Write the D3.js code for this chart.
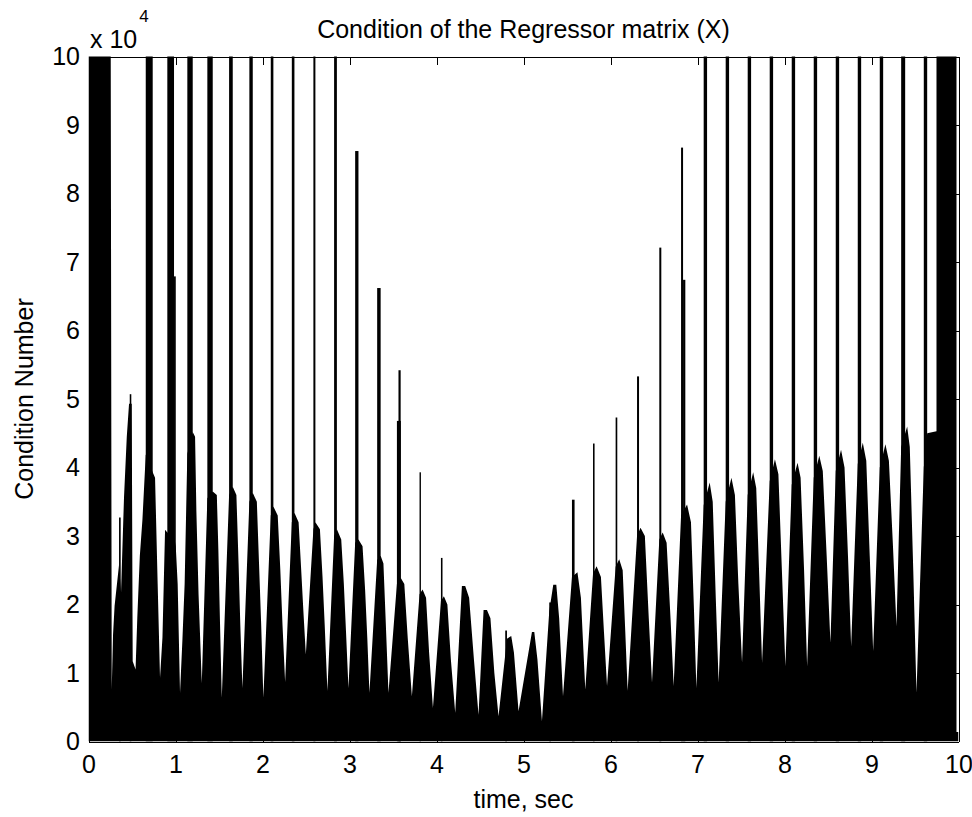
<!DOCTYPE html>
<html lang="en">
  <head>
    <meta charset="utf-8">
    <title>Condition of the Regressor matrix</title>
    <script src="https://d3js.org/d3.v7.js"></script>
    <style>
      body { margin: 0; background: #fff; }
      text { font-family: "Liberation Sans", Arial, sans-serif; }
    </style>
  </head>
  <body>
    <script>

  // width and height
  var w = 972;
  var h = 817;
  var plot = {left: 88.5, right: 958.5, top: 56.5, bottom: 741.5};

  // tick labels
  var xTicks = [0, 1, 2, 3, 4, 5, 6, 7, 8, 9, 10];
  var yTicks = [0, 1, 2, 3, 4, 5, 6, 7, 8, 9, 10];

  // upper edge of the condition number trace, [time sec, value x 10^4]
  var envLeft = [
    [0.000, 10.5], [0.255, 10.5], [0.267, 0.76], [0.282, 1.56], [0.300, 1.98],
    [0.351, 2.58], [0.374, 2.18], [0.408, 3.56], [0.440, 4.45], [0.466, 4.93],
    [0.497, 4.93], [0.508, 1.17], [0.541, 1.05], [0.561, 1.81], [0.590, 2.71],
    [0.620, 3.24], [0.658, 4.19], [0.738, 3.93], [0.765, 3.85], [0.795, 2.30],
    [0.822, 0.93], [0.850, 1.52], [0.880, 3.09], [0.906, 3.05], [0.983, 3.00],
    [1.003, 2.85], [1.025, 2.30], [1.052, 0.71], [1.080, 1.50], [1.105, 2.30],
    [1.136, 4.20], [1.198, 4.52], [1.225, 4.45], [1.240, 3.36], [1.265, 2.15],
    [1.302, 0.85], [1.366, 3.55], [1.428, 3.65], [1.475, 3.60], [1.493, 2.78],
    [1.512, 1.71], [1.532, 0.64], [1.616, 3.60], [1.658, 3.72], [1.700, 3.60],
    [1.725, 2.60], [1.745, 1.70], [1.769, 0.78], [1.849, 3.50], [1.888, 3.63],
    [1.935, 3.50], [1.960, 2.60], [1.985, 1.70], [2.010, 0.64], [2.095, 3.30],
    [2.125, 3.43], [2.175, 3.30], [2.205, 2.50], [2.230, 1.70], [2.260, 0.87],
    [2.337, 3.20], [2.367, 3.34], [2.415, 3.20], [2.445, 2.50], [2.470, 1.90],
    [2.498, 1.27], [2.585, 3.10], [2.608, 3.20], [2.660, 3.10], [2.690, 2.40],
    [2.715, 1.70], [2.746, 0.74], [2.823, 3.00], [2.855, 3.10], [2.905, 2.95],
    [2.935, 2.30], [2.960, 1.60], [2.988, 0.78]
  ];

  var envMid = [
    [3.065, 2.90], [3.103, 2.95], [3.150, 2.85], [3.180, 2.20], [3.205, 1.50],
    [3.229, 0.71], [3.318, 2.65], [3.358, 2.71], [3.390, 2.60], [3.415, 1.80],
    [3.448, 0.71], [3.545, 2.30], [3.588, 2.39], [3.630, 2.30], [3.670, 1.50],
    [3.717, 0.66], [3.805, 2.15], [3.840, 2.22], [3.880, 2.10], [3.915, 1.30],
    [3.959, 0.49], [4.051, 2.05], [4.085, 2.12], [4.125, 2.00], [4.165, 1.20],
    [4.215, 0.42], [4.292, 2.27], [4.330, 2.27], [4.375, 2.10], [4.430, 1.20],
    [4.483, 0.39], [4.541, 1.92], [4.580, 1.92], [4.620, 1.80], [4.665, 1.00],
    [4.713, 0.37], [4.810, 1.50], [4.859, 1.54], [4.890, 1.30], [4.943, 0.44],
    [5.097, 1.60], [5.124, 1.60], [5.160, 1.20], [5.212, 0.30], [5.296, 1.90],
    [5.342, 2.29], [5.377, 2.29], [5.410, 1.80], [5.454, 0.66], [5.557, 2.40],
    [5.620, 2.47], [5.660, 2.10], [5.710, 0.76], [5.799, 2.45], [5.840, 2.56],
    [5.890, 2.40], [5.925, 1.60], [5.960, 0.81], [6.059, 2.55], [6.100, 2.66],
    [6.140, 2.50], [6.170, 1.60], [6.197, 0.74], [6.305, 3.00], [6.345, 3.12],
    [6.395, 3.00], [6.440, 1.80], [6.477, 0.86], [6.561, 2.95], [6.600, 3.05],
    [6.645, 2.90], [6.690, 1.80], [6.726, 0.81], [6.811, 3.30], [6.880, 3.46],
    [6.925, 3.20], [6.960, 1.90], [6.987, 0.78]
  ];

  var envRight = [
    [7.071, 3.45], [7.140, 3.78], [7.175, 3.50], [7.210, 2.10], [7.243, 0.86],
    [7.324, 3.50], [7.390, 3.85], [7.430, 3.60], [7.470, 2.30], [7.512, 1.15],
    [7.577, 3.60], [7.640, 3.93], [7.675, 3.70], [7.710, 2.40], [7.742, 1.15],
    [7.830, 3.80], [7.890, 4.12], [7.930, 3.90], [7.970, 2.50], [8.010, 1.10],
    [8.083, 3.75], [8.150, 4.07], [8.185, 3.85], [8.225, 2.50], [8.260, 1.10],
    [8.336, 3.85], [8.400, 4.17], [8.440, 3.95], [8.485, 2.70], [8.528, 1.44],
    [8.589, 3.95], [8.650, 4.26], [8.690, 4.00], [8.730, 2.70], [8.766, 1.39],
    [8.842, 4.05], [8.900, 4.36], [8.940, 4.10], [8.980, 2.70], [9.019, 1.32],
    [9.095, 4.00], [9.160, 4.34], [9.200, 4.10], [9.245, 2.90], [9.287, 1.68],
    [9.341, 4.30], [9.410, 4.60], [9.440, 4.30], [9.480, 2.50], [9.517, 0.71],
    [9.601, 4.00], [9.640, 4.50], [9.747, 4.53], [9.747, 10.5], [9.977, 10.5],
    [9.977, 0.14], [10.00, 0.14]
  ];

  // spikes that run off the top of the axes, [start, end] in sec
  var spikesFull = [
    [0.658, 0.738], [0.906, 0.983], [1.136, 1.198], [1.366, 1.428], [1.616, 1.658],
    [1.849, 1.888], [2.095, 2.125], [2.337, 2.367], [2.585, 2.608], [2.823, 2.855],
    [7.071, 7.110], [7.324, 7.363], [7.577, 7.616], [7.830, 7.869], [8.083, 8.122],
    [8.336, 8.375], [8.589, 8.628], [8.842, 8.881], [9.095, 9.134], [9.341, 9.387],
    [9.601, 9.640]
  ];

  // shorter spikes, [start, end, value x 10^4]
  var spikesPartial = [
    [0.351, 0.370, 3.27], [0.474, 0.492, 5.07], [0.983, 1.003, 6.79],
    [3.065, 3.103, 8.62], [3.318, 3.358, 6.62], [3.545, 3.590, 4.68],
    [3.563, 3.588, 5.42], [3.805, 3.821, 3.93], [4.051, 4.069, 2.68],
    [4.790, 4.810, 1.62], [5.296, 5.316, 2.03], [5.557, 5.587, 3.53],
    [5.799, 5.817, 4.35], [6.059, 6.078, 4.73], [6.305, 6.328, 5.33],
    [6.561, 6.584, 7.21], [6.811, 6.834, 8.67], [6.834, 6.860, 6.74]
  ];

  var yMax = 10;

  // set up scales
  var xScale = d3.scaleLinear()
    .domain([0, 10])
    .range([plot.left, plot.right]);

  var yScale = d3.scaleLinear()
    .domain([0, yMax])
    .range([plot.bottom, plot.top]);

  // create SVG element
  var svg = d3.select("body")
    .append("svg")
    .attr("width", w)
    .attr("height", h);

  svg.append("defs")
    .append("clipPath")
    .attr("id", "plotClip")
    .append("rect")
    .attr("x", plot.left)
    .attr("y", plot.top)
    .attr("width", plot.right - plot.left)
    .attr("height", plot.bottom - plot.top);

  var dataLayer = svg.append("g")
    .attr("clip-path", "url(#plotClip)");

  // filled trace
  var area = d3.area()
    .x(d => xScale(d[0]))
    .y0(yScale(0))
    .y1(d => yScale(d[1]));

  dataLayer.append("path")
    .datum(envLeft.concat(envMid, envRight))
    .attr("d", area)
    .attr("fill", "#000");

  // spikes
  var spikes = spikesFull.map(d => [d[0], d[1], yMax + 0.5]).concat(spikesPartial);

  dataLayer.selectAll("rect.spike")
    .data(spikes)
    .enter()
    .append("rect")
    .attr("class", "spike")
    .attr("x", d => xScale(d[0]))
    .attr("y", d => yScale(d[2]))
    .attr("width", d => Math.max(1.2, xScale(d[1]) - xScale(d[0])))
    .attr("height", d => yScale(0) - yScale(d[2]))
    .attr("fill", "#000");

  // axes, ticks pointing inward like matlab
  var xAxis = d3.axisBottom(xScale).tickValues(xTicks).tickSizeInner(-8).tickSizeOuter(0).tickPadding(14);
  var xAxisTop = d3.axisTop(xScale).tickValues(xTicks).tickSizeInner(-8).tickSizeOuter(0).tickFormat("");
  var yAxis = d3.axisLeft(yScale).tickValues(yTicks).tickSizeInner(-8).tickSizeOuter(0).tickPadding(8.5);
  var yAxisRight = d3.axisRight(yScale).tickValues(yTicks).tickSizeInner(-8).tickSizeOuter(0).tickFormat("");

  svg.append("g")
    .attr("class", "xAxis")
    .attr("transform", `translate(0, ${plot.bottom})`)
    .call(xAxis);

  svg.append("g")
    .attr("class", "xAxisTop")
    .attr("transform", `translate(0, ${plot.top})`)
    .call(xAxisTop);

  svg.append("g")
    .attr("class", "yAxis")
    .attr("transform", `translate(${plot.left}, 0)`)
    .call(yAxis);

  svg.append("g")
    .attr("class", "yAxisRight")
    .attr("transform", `translate(${plot.right}, 0)`)
    .call(yAxisRight);

  svg.selectAll(".xAxis, .xAxisTop, .yAxis, .yAxisRight")
    .attr("font-family", null)
    .attr("font-size", null)
    .style("shape-rendering", "crispEdges");

  svg.selectAll(".tick text")
    .attr("fill", "#000")
    .style("font-size", "25px");

  svg.selectAll(".domain, .tick line")
    .attr("stroke", "#000");

  // exponent label
  var expLabel = svg.append("text")
    .attr("x", 90)
    .attr("y", 48)
    .style("font-size", "25px")
    .attr("fill", "#000");
  expLabel.append("tspan").text("x 10");
  expLabel.append("tspan")
    .attr("dx", 2)
    .attr("dy", -26)
    .style("font-size", "17px")
    .text("4");

  // title and axis labels
  svg.append("text")
    .attr("x", (plot.left + plot.right) / 2)
    .attr("y", 38)
    .attr("text-anchor", "middle")
    .style("font-size", "25px")
    .text("Condition of the Regressor matrix (X)");

  svg.append("text")
    .attr("x", (plot.left + plot.right) / 2)
    .attr("y", 808)
    .attr("text-anchor", "middle")
    .style("font-size", "25px")
    .text("time, sec");

  svg.append("text")
    .attr("transform", `translate(33, ${(plot.top + plot.bottom) / 2}) rotate(-90)`)
    .attr("text-anchor", "middle")
    .style("font-size", "25px")
    .text("Condition Number");

    </script>
  </body>
</html>
